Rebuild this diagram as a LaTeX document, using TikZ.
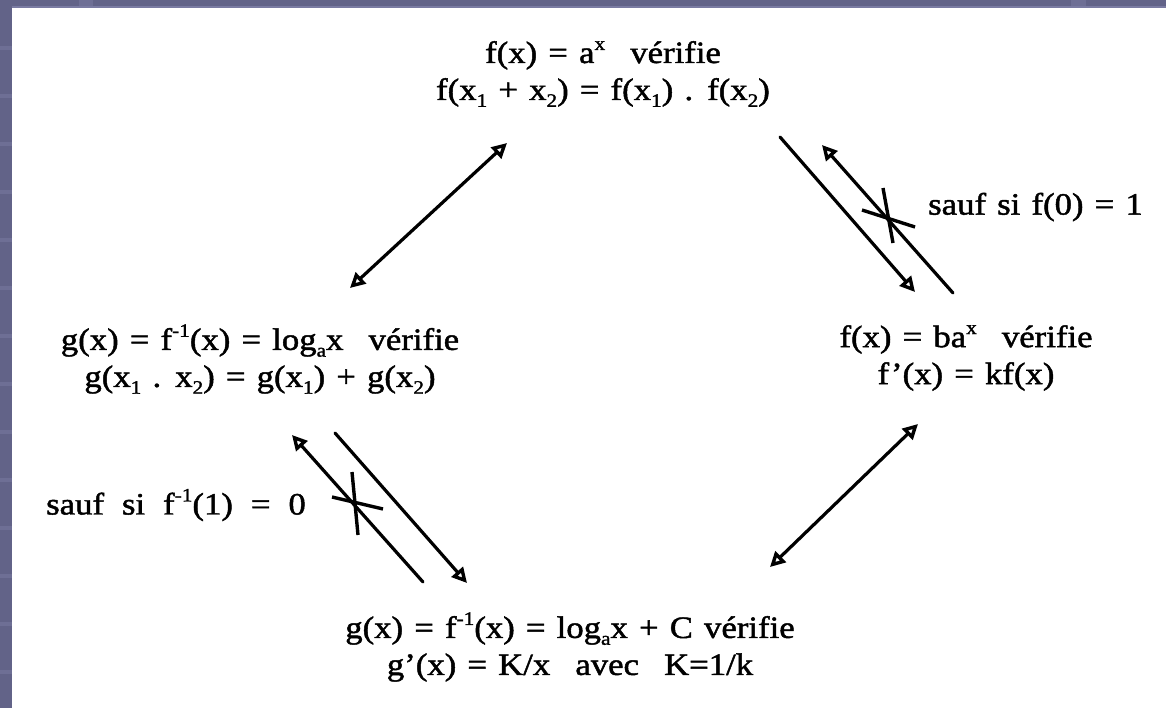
\documentclass[tikz,border=0pt]{standalone}
\usepackage{fontspec}
\setmainfont{Liberation Serif}[FakeStretch=1.12,FakeBold=1.5]
\usetikzlibrary{arrows.meta}
\definecolor{frame}{HTML}{626388}
\definecolor{framelt}{HTML}{7A7BA2}
\newcommand{\Sup}[1]{\raisebox{0.42em}{\fontsize{19}{19}\selectfont #1}}
\newcommand{\Sub}[1]{\raisebox{-0.22em}{\fontsize{19}{19}\selectfont #1}}
\newcommand{\txtfont}{\fontsize{31}{37}\selectfont\spaceskip=0.36em\relax}
\newcommand{\widefont}{\fontsize{31}{37}\selectfont\spaceskip=0.58em\relax}
\newcommand{\gap}{\hspace{0.45em}}
\tikzset{
  txt/.style={inner sep=0pt, align=center, font=\txtfont},
  widetxt/.style={inner sep=0pt, align=center, font=\widefont},
  conn/.style={line width=3.2pt, line cap=round},
  tip/.style={-{Triangle[open,length=15pt,width=15pt,line width=3.4pt]}},
  tips/.style={{Triangle[open,length=15pt,width=15pt,line width=3.4pt]}-{Triangle[open,length=15pt,width=15pt,line width=3.4pt]}},
  crossln/.style={line width=3.4pt},
}
\begin{document}
\begin{tikzpicture}[x=1pt,y=-1pt]
\useasboundingbox (0,0) rectangle (1166,708);
\fill[white] (0,0) rectangle (1166,708);
% frame strips
\fill[frame] (0,0) rectangle (12,708);
\fill[frame] (0,0) rectangle (1166,8);
\fill[framelt] (12,6) rectangle (1166,8.5);
\foreach \k in {1,...,14} {\fill[framelt,opacity=0.5] (0,48*\k-2) rectangle (12,48*\k+2);}
\fill[framelt,opacity=0.5] (79,0) rectangle (93,7);
\fill[framelt,opacity=0.5] (1071,0) rectangle (1086,7);

% text nodes
\node[txt] (top) at (603,74) {f(x) = a\Sup{x} \gap vérifie\\ f(x\Sub{1} + x\Sub{2}) = f(x\Sub{1}) . f(x\Sub{2})};
\node[txt] (left) at (260,359) {g(x) = f\Sup{-1}(x) = log\Sub{a}x \gap vérifie\\ g(x\Sub{1} . x\Sub{2}) = g(x\Sub{1}) + g(x\Sub{2})};
\node[txt] (right) at (966,358) {f(x) = ba\Sup{x} \gap vérifie\\ f'(x) = kf(x)};
\node[txt] (bottom) at (570,647) {g(x) = f\Sup{-1}(x) = log\Sub{a}x + C vérifie\\ g'(x) = K/x \gap avec \gap K=1/k};
\node[txt, anchor=west] (sauf1) at (928,207) {sauf si f(0) = 1};
\node[widetxt, anchor=west] (sauf2) at (46,505) {sauf si f\Sup{-1}(1) = 0};

% connector end points
\coordinate (a1s) at (350,288); \coordinate (a1e) at (507,143);
\coordinate (As) at (780,137);  \coordinate (Ae) at (915,292);
\coordinate (Bs) at (953,293);  \coordinate (Be) at (822,145);
\coordinate (a2s) at (770,567); \coordinate (a2e) at (918,424);
\coordinate (Cs) at (423,582);  \coordinate (Ce) at (292,435);
\coordinate (Ds) at (335,433);  \coordinate (De) at (467,583);
\coordinate (x1a) at (862,210); \coordinate (x1b) at (915,227);
\coordinate (x1c) at (883,188); \coordinate (x1d) at (893,243);
\coordinate (x2a) at (332,497); \coordinate (x2b) at (383,509);
\coordinate (x2c) at (352,472); \coordinate (x2d) at (358,535);

\draw[conn,tips] (a1s) -- (a1e);
\draw[conn,tip] (As) -- (Ae);
\draw[conn,tip] (Bs) -- (Be);
\draw[conn,tips] (a2s) -- (a2e);
\draw[conn,tip] (Cs) -- (Ce);
\draw[conn,tip] (Ds) -- (De);
\draw[crossln] (x1a) -- (x1b);
\draw[crossln] (x1c) -- (x1d);
\draw[crossln] (x2a) -- (x2b);
\draw[crossln] (x2c) -- (x2d);
\end{tikzpicture}
\end{document}
